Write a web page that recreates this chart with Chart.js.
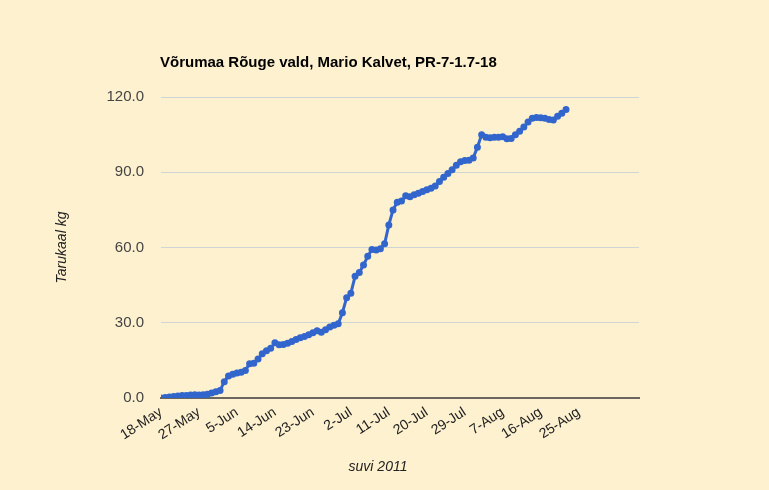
<!DOCTYPE html>
<html>
<head>
<meta charset="utf-8">
<script src="https://cdn.jsdelivr.net/npm/chart.js@4"></script>
<style>
    body { margin: 0; background: #fef1cf; }
    #wrap { width: 769px; height: 490px; }
</style>
</head>
<body>
<div id="wrap"><canvas id="weightChart" width="769" height="490"></canvas></div>
<script>
"use strict";

// one reading per day, starting 18-May-2011
const firstDay = '18-May';
const weights = [
    0.0, 0.2, 0.4, 0.6, 0.8, 1.0, 1.0, 1.2, 1.3, 1.2,
    1.3, 1.5, 2.0, 2.5, 3.0, 6.5, 8.8, 9.5, 10.0, 10.3,
    11.0, 13.7, 13.9, 15.5, 17.6, 18.8, 19.8, 22.0, 21.2, 21.3,
    21.8, 22.5, 23.3, 24.0, 24.5, 25.2, 26.0, 26.8, 26.2, 27.2,
    28.3, 29.0, 29.6, 34.0, 40.0, 41.8, 48.5, 50.0, 53.0, 56.5,
    59.2, 59.0, 59.5, 61.5, 69.0, 75.0, 78.0, 78.5, 80.6, 80.2,
    81.0, 81.6, 82.3, 83.0, 83.6, 84.5, 86.3, 88.0, 89.5, 91.0,
    92.8, 94.2, 94.7, 94.8, 95.7, 100.0, 105.0, 104.0, 103.8, 104.0,
    104.0, 104.2, 103.4, 103.5, 105.0, 106.3, 108.0, 110.0, 111.5, 111.8,
    111.7, 111.5, 111.0, 110.8, 112.3, 113.5, 115.0
];

// x axis ticks (days after 18-May)
const tickDays = [0, 9, 18, 27, 36, 45, 54, 63, 72, 81, 90, 99];
const tickLabels = ['18-May', '27-May', '5-Jun', '14-Jun', '23-Jun', '2-Jul',
    '11-Jul', '20-Jul', '29-Jul', '7-Aug', '16-Aug', '25-Aug'];
const yTicks = [0, 30, 60, 90, 120];

const chartTitle = 'Võrumaa Rõuge vald, Mario Kalvet, PR-7-1.7-18';
const xTitle = 'suvi 2011';
const yTitle = 'Tarukaal kg';

const fontFamily = '"Liberation Sans", Arial, sans-serif';

//draws chart title and x axis title at their places
const textPlugin = {
    id: 'textPlugin',
    afterDraw(chart) {
        const ctx = chart.ctx;
        ctx.save();
        ctx.fillStyle = '#000';
        ctx.font = 'bold 15px ' + fontFamily;
        ctx.textBaseline = 'middle';
        ctx.textAlign = 'left';
        ctx.fillText(chartTitle, 160, 63);
        ctx.fillStyle = '#222';
        ctx.font = 'italic 14px ' + fontFamily;
        ctx.textAlign = 'center';
        ctx.fillText(xTitle, 378, 467);
        ctx.restore();
    }
};

const ctx = document.getElementById('weightChart').getContext('2d');
const weightChart = new Chart(ctx, {
    type: 'line',
    data: {
        datasets: [
            {
                label: 'Tarukaal',
                data: weights.map((w, i) => ({ x: i, y: w })),
                borderColor: '#3366cc',
                backgroundColor: '#3366cc',
                borderWidth: 3,
                pointRadius: 2,
                pointHoverRadius: 3,
                tension: 0,
                fill: false
            }
        ]
    },
    options: {
        responsive: false,
        animation: false,
        layout: {
            padding: { left: 0, right: 130, top: 97, bottom: 0 }
        },
        plugins: {
            legend: { display: false },
            title: { display: false },
            tooltip: { enabled: false }
        },
        scales: {
            x: {
                type: 'linear',
                min: 0,
                max: 113.3,
                afterBuildTicks: (scale) => {
                    scale.ticks = tickDays.map(d => ({ value: d }));
                },
                afterFit: (scale) => {
                    scale.height = 92;
                },
                ticks: {
                    autoSkip: false,
                    minRotation: 33,
                    maxRotation: 33,
                    padding: 6,
                    color: '#222',
                    font: { family: fontFamily, size: 14 },
                    callback: (value) => {
                        const idx = tickDays.indexOf(value);
                        return idx >= 0 ? tickLabels[idx] : '';
                    }
                },
                grid: { display: false, drawTicks: false },
                border: { display: true, color: '#6b675f', width: 2 }
            },
            y: {
                min: 0,
                max: 120,
                afterBuildTicks: (scale) => {
                    scale.ticks = yTicks.map(v => ({ value: v }));
                },
                afterFit: (scale) => {
                    scale.width = 161;
                },
                ticks: {
                    padding: 17,
                    color: '#444',
                    font: { family: fontFamily, size: 15 },
                    callback: (value) => value.toFixed(1)
                },
                grid: {
                    drawTicks: false,
                    color: (c) => c.tick && c.tick.value === 0 ? 'rgba(0,0,0,0)' : '#cfd4d4',
                    lineWidth: 1
                },
                border: { display: false },
                title: {
                    display: true,
                    text: yTitle,
                    color: '#222',
                    padding: { top: 54, bottom: 0 },
                    font: { family: fontFamily, size: 14, style: 'italic' }
                }
            }
        }
    },
    plugins: [textPlugin]
});
</script>
</body>
</html>
